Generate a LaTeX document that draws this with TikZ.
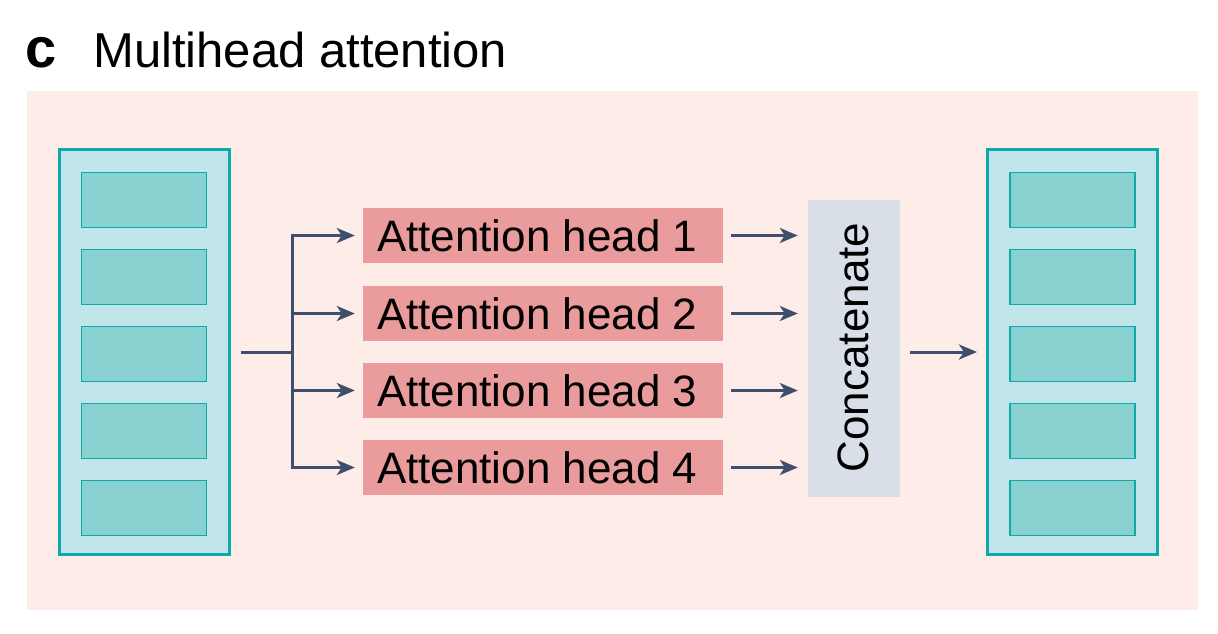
\documentclass[tikz,border=0pt]{standalone}
\usepackage{fontspec}
\setmainfont{Liberation Sans}
\usetikzlibrary{arrows.meta}
\definecolor{bgpink}{HTML}{FDECE8}
\definecolor{headfill}{HTML}{E99C9B}
\definecolor{concatfill}{HTML}{D9DFE7}
\definecolor{colfill}{HTML}{C0E5EA}
\definecolor{colborder}{HTML}{0EAAAA}
\definecolor{cellfill}{HTML}{89D1D0}
\definecolor{arrowcol}{HTML}{3E4E6C}
\begin{document}
\begin{tikzpicture}[x=1pt,y=-1pt,
  colbox/.style={draw=colborder, fill=colfill, line width=3pt, minimum width=170pt, minimum height=405pt, inner sep=0pt},
  cellbox/.style={draw=colborder, fill=cellfill, line width=1.5pt, minimum width=125pt, minimum height=55pt, inner sep=0pt},
  headbox/.style={fill=headfill, minimum width=360pt, minimum height=55pt, inner xsep=0pt, inner ysep=0pt, text height=31.5pt, text depth=0pt, font=\fontsize{44}{44}\selectfont},
  concatbox/.style={fill=concatfill, minimum width=92pt, minimum height=297pt, inner sep=0pt},
  arr/.style={draw=arrowcol, line width=3pt, -{Stealth[length=18pt, width=15pt, inset=5pt]}},
  ln/.style={draw=arrowcol, line width=3pt}
]
\useasboundingbox (0,0) rectangle (1218,634);
\fill[bgpink] (27,91) rectangle (1198,610);

% title
\node[anchor=base west, inner sep=0pt] (lbl) at (25,67) {\fontsize{56}{56}\selectfont\bfseries c};
\node[anchor=base west, inner sep=0pt] (title) at (93,67) {\fontsize{49}{49}\selectfont Multihead attention};

% left column
\node[colbox] (L) at (144.5,352) {};
\foreach \i/\y in {1/200,2/277,3/354,4/431,5/508}
  \node[cellbox] (L\i) at (144,\y) {};

% right column
\node[colbox] (R) at (1072.5,352) {};
\foreach \i/\y in {1/200,2/277,3/354,4/431,5/508}
  \node[cellbox] (R\i) at (1072.5,\y) {};

% heads
\foreach \i/\y in {1/235.5,2/313.5,3/390.5,4/467.5}
  \node[headbox] (h\i) at (543,\y) {\makebox[360pt][l]{\hspace{14pt}Attention head \i}};

% concatenate
\node[concatbox] (cat) at (854,348.5) {};
\node[rotate=90, inner sep=0pt, font=\fontsize{44}{44}\selectfont] (cattext) at (853,347.5) {Concatenate};

% connectors
\coordinate (split) at (292,352);
\draw[ln, shorten <=10pt] (L.east) -- (split);
\foreach \i in {1,2,3,4}
  \draw[arr, shorten >=8pt] (split) |- (h\i.west);
\foreach \i in {1,2,3,4}
  \draw[arr, shorten <=8pt, shorten >=10pt] (h\i.east) -- (h\i.east -| cat.west);
\draw[arr, shorten <=10pt, shorten >=9pt] (cat.east |- split) -- (R.west |- split);
\end{tikzpicture}
\end{document}
